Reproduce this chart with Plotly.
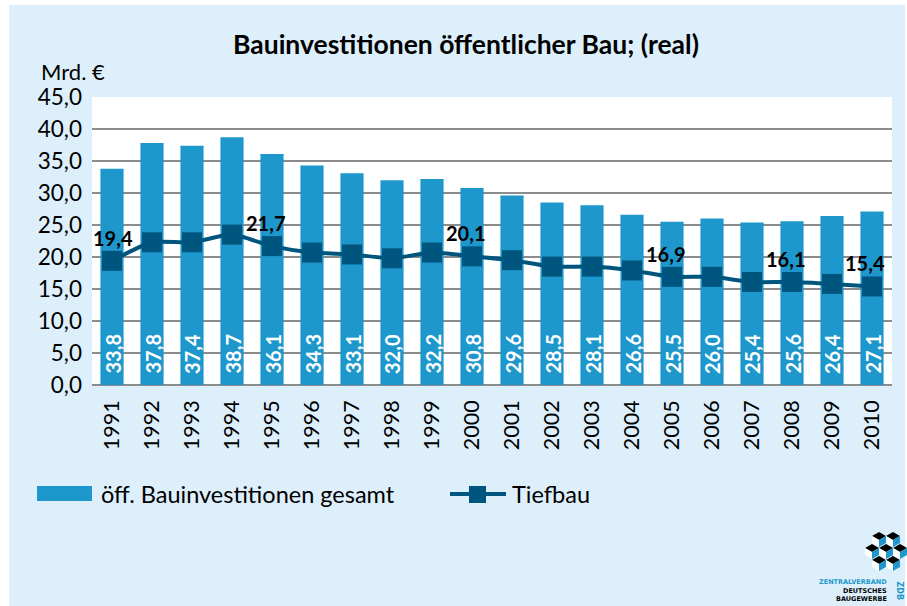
import plotly.graph_objects as go

years = [str(y) for y in range(1991, 2011)]
gesamt = [33.8, 37.8, 37.4, 38.7, 36.1, 34.3, 33.1, 32.0, 32.2, 30.8,
          29.6, 28.5, 28.1, 26.6, 25.5, 26.0, 25.4, 25.6, 26.4, 27.1]
tiefbau = [19.4, 22.3, 22.3, 23.5, 21.7, 20.7, 20.4, 19.8, 20.7, 20.1,
           19.5, 18.5, 18.5, 17.9, 16.9, 16.9, 16.1, 16.1, 15.8, 15.4]
tiefbau_labelled = ["1991", "1995", "2000", "2005", "2008", "2010"]
y_ticks = [0, 5, 10, 15, 20, 25, 30, 35, 40, 45]

W_PX, H_PX = 907, 606
L, R, T, B = 92, 15, 97, 221
PW, PH = W_PX - L - R, H_PX - T - B

def px(x):
    return (x - L) / PW

def py(y):
    return 1 - (y - T) / PH

BG = "#DDEFFA"
BAR = "#1E98CC"
DARK = "#00557E"
FONT = "Lato"

def fmt(v):
    return f"{v:.1f}".replace(".", ",")

fig = go.Figure()
fig.add_trace(go.Bar(
    x=years, y=gesamt, marker=dict(color=BAR, line=dict(width=0)),
    name="öff. Bauinvestitionen gesamt", showlegend=False,
))
fig.add_trace(go.Scatter(
    x=years, y=tiefbau, mode="lines+markers",
    line=dict(color=DARK, width=4, shape="spline", smoothing=0.6),
    marker=dict(symbol="square", size=20, color=DARK),
    name="Tiefbau", showlegend=False,
))

annotations = []
# bar value labels (rotated, white, at bar base)
for i, v in enumerate(gesamt):
    annotations.append(dict(
        x=i, y=0, xref="x", yref="y", text=f"<b>{fmt(v)}</b>",
        showarrow=False, textangle=-90, xanchor="center", yanchor="bottom",
        yshift=9, font=dict(family=FONT, size=20, color="white"),
    ))
# Tiefbau value labels
for i, (yr, v) in enumerate(zip(years, tiefbau)):
    if yr in tiefbau_labelled:
        annotations.append(dict(
            x=i, y=v, xref="x", yref="y", text=f"<b>{fmt(v)}</b>",
            showarrow=False, xshift=(1 if i == 0 else -7), yshift=23,
            font=dict(family=FONT, size=20, color="black"),
        ))

# title and unit
annotations.append(dict(x=px(466), y=py(44), xref="paper", yref="paper",
                        text="<b>Bauinvestitionen öffentlicher Bau; (real)</b>",
                        showarrow=False, xanchor="center", yanchor="middle",
                        font=dict(family=FONT, size=26.5, color="black")))
annotations.append(dict(x=px(39), y=py(71), xref="paper", yref="paper",
                        text="Mrd. €", showarrow=False, xanchor="left", yanchor="middle",
                        font=dict(family=FONT, size=22, color="black")))

# legend texts
annotations.append(dict(x=px(99), y=py(494), xref="paper", yref="paper",
                        text="öff. Bauinvestitionen gesamt", showarrow=False,
                        xanchor="left", yanchor="middle",
                        font=dict(family=FONT, size=23.5, color="black")))
annotations.append(dict(x=px(510), y=py(494), xref="paper", yref="paper",
                        text="Tiefbau", showarrow=False,
                        xanchor="left", yanchor="middle",
                        font=dict(family=FONT, size=23.5, color="black")))

# logo texts
for txt, yy, col in [("ZENTRALVERBAND", 582, BAR), ("DEUTSCHES", 590.5, "black"),
                     ("BAUGEWERBE", 599, "black")]:
    annotations.append(dict(x=px(889), y=py(yy), xref="paper", yref="paper",
                            text=f"<b>{txt}</b>", showarrow=False,
                            xanchor="right", yanchor="middle",
                            font=dict(family="DejaVu Sans", size=6.5, color=col)))
annotations.append(dict(x=px(899), y=py(590.5), xref="paper", yref="paper",
                        text="<b>ZDB</b>", showarrow=False, textangle=90,
                        xanchor="center", yanchor="middle",
                        font=dict(family="DejaVu Sans", size=8, color=BAR)))

shapes = [
    dict(type="rect", xref="paper", yref="paper", layer="below",
         x0=px(9), x1=px(905), y0=py(606), y1=py(5),
         fillcolor=BG, line=dict(width=0)),
    dict(type="rect", xref="paper", yref="paper", layer="below",
         x0=0, x1=1, y0=0, y1=1, fillcolor="white", line=dict(width=0)),
    dict(type="rect", xref="paper", yref="paper",
         x0=px(37), x1=px(92), y0=py(501), y1=py(486),
         fillcolor=BAR, line=dict(width=0)),
    dict(type="line", xref="paper", yref="paper",
         x0=px(450), x1=px(506), y0=py(494), y1=py(494),
         line=dict(color=DARK, width=4)),
    dict(type="rect", xref="paper", yref="paper",
         x0=px(469), x1=px(486), y0=py(503), y1=py(486),
         fillcolor=DARK, line=dict(width=0)),
]

def cube(cx, cy, s=7.0):
    h = s * 0.58
    top = f"M {px(cx)} {py(cy - 2*h)} L {px(cx + s)} {py(cy - h)} L {px(cx)} {py(cy)} L {px(cx - s)} {py(cy - h)} Z"
    left = f"M {px(cx - s)} {py(cy - h)} L {px(cx)} {py(cy)} L {px(cx)} {py(cy + s)} L {px(cx - s)} {py(cy + s - h)} Z"
    right = f"M {px(cx + s)} {py(cy - h)} L {px(cx)} {py(cy)} L {px(cx)} {py(cy + s)} L {px(cx + s)} {py(cy + s - h)} Z"
    return [
        dict(type="path", xref="paper", yref="paper", path=top, fillcolor="black", line=dict(width=0)),
        dict(type="path", xref="paper", yref="paper", path=left, fillcolor="white", line=dict(width=0)),
        dict(type="path", xref="paper", yref="paper", path=right, fillcolor=BAR, line=dict(width=0)),
    ]

for cx, cy in [(879, 540), (893, 540), (872, 552), (886, 552), (900, 552), (879, 564), (893, 564)]:
    shapes += cube(cx, cy)

fig.update_layout(
    width=W_PX, height=H_PX,
    margin=dict(l=L, r=R, t=T, b=B, autoexpand=False),
    paper_bgcolor="white", plot_bgcolor="rgba(0,0,0,0)",
    bargap=0.42, showlegend=False,
    font=dict(family=FONT, color="black"),
    annotations=annotations, shapes=shapes,
    xaxis=dict(type="category", categoryorder="array", categoryarray=years,
               range=[-0.5, len(years) - 0.5], autorange=False,
               tickangle=-90, showgrid=False, showline=False,
               ticks="", tickfont=dict(family=FONT, size=21.5, color="black"),
               ticklabelstandoff=10, fixedrange=True),
    yaxis=dict(range=[0, 45], autorange=False, tickvals=y_ticks,
               ticktext=[fmt(v) for v in y_ticks],
               showgrid=True, gridcolor="#8C8C8C", gridwidth=2,
               zeroline=True, zerolinecolor="#8C8C8C", zerolinewidth=2,
               showline=False, ticks="", ticklabelstandoff=9,
               tickfont=dict(family=FONT, size=22.5, color="black"), fixedrange=True),
)

fig.write_html("out.html", config={"displayModeBar": False},
               post_script="document.body.style.margin='0px';")
